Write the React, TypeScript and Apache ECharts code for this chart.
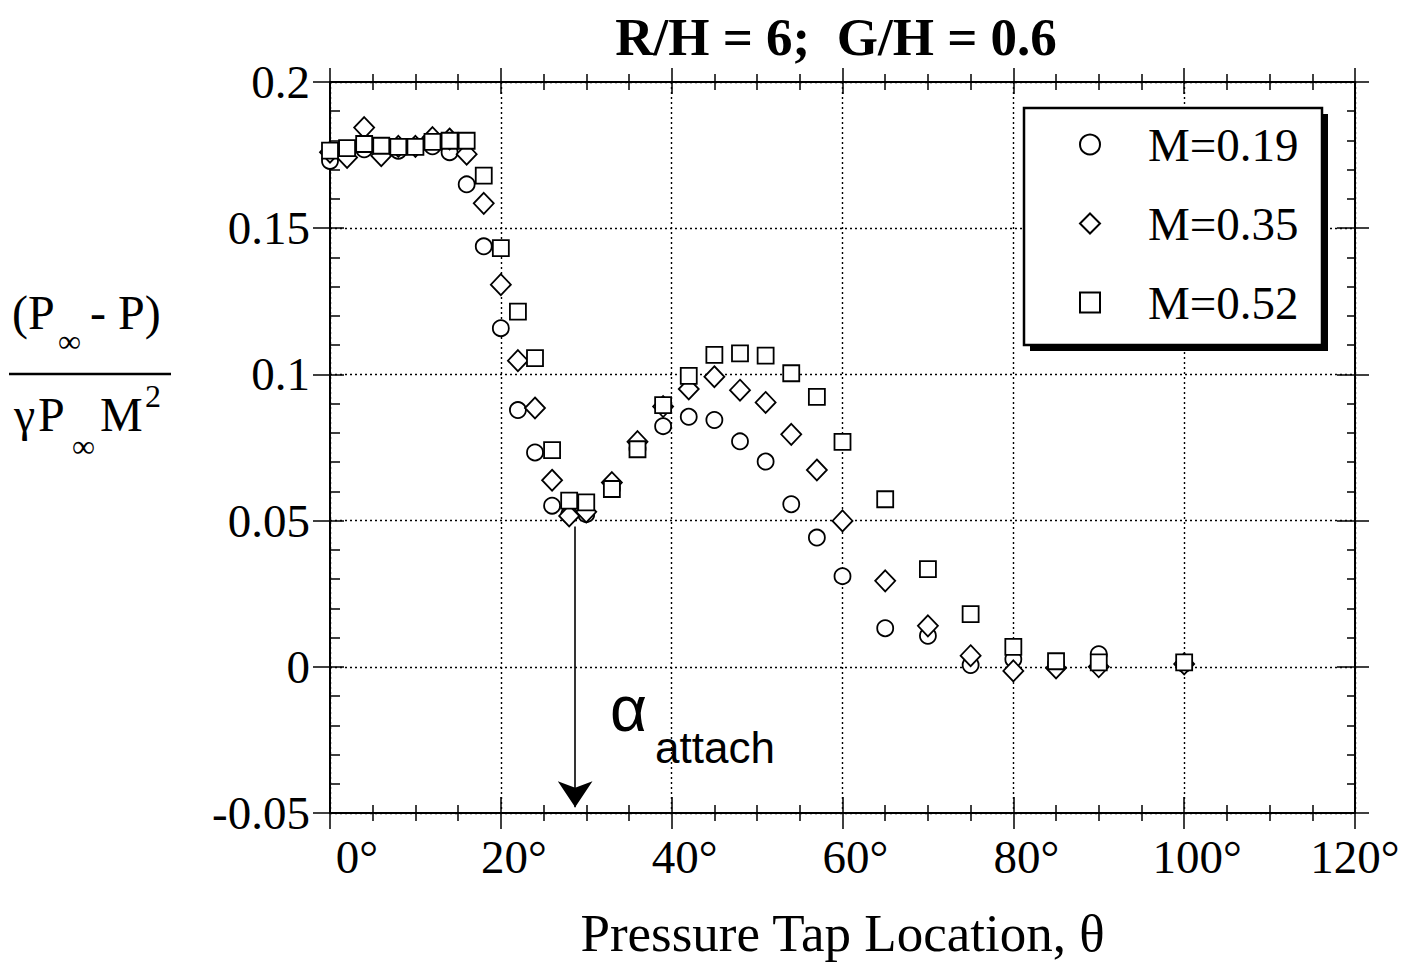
import React, { useEffect, useRef } from "react";
import * as echarts from "echarts";

// Pressure tap locations (deg) and pressure coefficient (P∞ - P)/(γ P∞ M²)
const THETA = [0, 2, 4, 6, 8, 10, 12, 14, 16, 18, 20, 22, 24, 26, 28, 30, 33, 36, 39, 42, 45, 48, 51, 54, 57, 60, 65, 70, 75, 80, 85, 90, 100];

const CP_M019 = [0.173, 0.177, 0.177, 0.178, 0.1765, 0.178, 0.178, 0.176, 0.165, 0.1438, 0.1158, 0.0878, 0.0733, 0.0551, 0.052, 0.0522, 0.061, 0.0745, 0.0823, 0.0855, 0.0844, 0.0771, 0.0702, 0.0556, 0.0442, 0.031, 0.0132, 0.0106, 0.0006, 0.0026, 0.001, 0.0043, 0.001];

const CP_M035 = [0.176, 0.1742, 0.1844, 0.1748, 0.178, 0.178, 0.181, 0.1805, 0.1753, 0.1585, 0.1307, 0.1047, 0.0885, 0.0638, 0.0516, 0.053, 0.063, 0.077, 0.089, 0.095, 0.0992, 0.0946, 0.0904, 0.0795, 0.0673, 0.0499, 0.0294, 0.014, 0.0038, -0.0014, -0.0004, 0.0, 0.001];

const CP_M052 = [0.1765, 0.1774, 0.1788, 0.1782, 0.1778, 0.1778, 0.1795, 0.1799, 0.1799, 0.168, 0.1432, 0.1215, 0.1056, 0.0741, 0.0568, 0.0562, 0.0608, 0.0744, 0.0895, 0.0995, 0.1067, 0.1072, 0.1064, 0.1004, 0.0923, 0.0769, 0.0573, 0.0334, 0.018, 0.0068, 0.0019, 0.0015, 0.0015];

const SERIES_NAMES = ["M=0.19", "M=0.35", "M=0.52"];

const X_MIN = 0;
const X_MAX = 120;
const X_STEP = 20;
const Y_MIN = -0.05;
const Y_MAX = 0.2;
const Y_STEP = 0.05;

// reattachment marker
const ATTACH_ANGLE = 28.7;
const ARROW_FROM = 0.048;
const ARROW_TO = -0.048;

const TITLE = "R/H = 6;  G/H = 0.6";
const X_NAME = "Pressure Tap Location, θ";

const SERIF = '"Liberation Serif", "Times New Roman", Times, serif';
const SANS = '"Liberation Sans", Arial, Helvetica, sans-serif';
const BLACK = "#000";
const tickStyle = { color: BLACK, width: 1.5 };

const pairs = (ys: number[]) => THETA.map((t, i) => [t, ys[i]]);

function xAxisDef(position: string, inside: boolean, major: number, minor: number, withLine: boolean, extra: any = {}) {
  return {
    type: "value",
    min: X_MIN,
    max: X_MAX,
    interval: X_STEP,
    position,
    axisLine: { show: withLine, onZero: false, lineStyle: { color: BLACK, width: 2 } },
    axisTick: { show: major > 0, inside, length: major, lineStyle: tickStyle },
    minorTick: { show: minor > 0, splitNumber: 4, length: minor, lineStyle: tickStyle },
    axisLabel: { show: false },
    splitLine: { show: false },
    minorSplitLine: { show: false },
    ...extra,
  };
}

function yAxisDef(position: string, inside: boolean, major: number, minor: number, withLine: boolean, extra: any = {}) {
  return {
    type: "value",
    min: Y_MIN,
    max: Y_MAX,
    interval: Y_STEP,
    position,
    axisLine: { show: withLine, onZero: false, lineStyle: { color: BLACK, width: 2 } },
    axisTick: { show: major > 0, inside, length: major, lineStyle: tickStyle },
    minorTick: { show: minor > 0, splitNumber: 5, length: minor, lineStyle: tickStyle },
    axisLabel: { show: false },
    splitLine: { show: false },
    minorSplitLine: { show: false },
    ...extra,
  };
}

const gridLine = { show: true, lineStyle: { color: BLACK, width: 1.4, type: [2, 3] } };

const markerStyle = { color: "#fff", borderColor: BLACK, borderWidth: 1.8, opacity: 1 };

const labelFont = { fontFamily: SERIF, fontSize: 47, color: BLACK };

function txt(text: string, x: number, y: number, font: string, align = "left") {
  return {
    type: "text",
    z: 6,
    x,
    y,
    style: {
      text,
      font,
      fill: BLACK,
      align,
      textAlign: align,
      verticalAlign: "middle",
      textVerticalAlign: "middle",
    },
  };
}

// degree labels sit a little right of their ticks; the first one more so, the last one centred
function degreeLabel(v: number) {
  if (v === X_MIN) return `{first|${v}°}`;
  if (v === X_MAX) return `{last|${v}°}`;
  return `{deg|${v}°}`;
}

export default function App() {
  const ref = useRef<HTMLDivElement>(null);

  useEffect(() => {
    if (!ref.current) return;
    const chart = echarts.init(ref.current, undefined, { renderer: "svg" });

    const option: any = {
      animation: false,
      backgroundColor: "#fff",
      grid: { left: 330, right: 64, top: 82, bottom: 152, containLabel: false, outerBoundsMode: "none" },
      xAxis: [
        xAxisDef("bottom", true, 16, 8, true, {
          splitLine: gridLine,
          axisLabel: {
            show: true,
            margin: 20,
            ...labelFont,
            formatter: degreeLabel,
            rich: {
              first: { ...labelFont, padding: [0, 0, 0, 54] },
              deg: { ...labelFont, padding: [0, 0, 0, 26] },
              last: { ...labelFont, padding: [0, 0, 0, 0] },
            },
          },
          name: X_NAME,
          nameLocation: "middle",
          nameGap: 93,
          nameTextStyle: { fontFamily: SERIF, fontSize: 53, color: BLACK },
        }),
        xAxisDef("bottom", false, 16, 8, false),
        xAxisDef("top", true, 12, 8, true),
        xAxisDef("top", false, 14, 8, false),
      ],
      yAxis: [
        yAxisDef("left", true, 14, 10, true, {
          splitLine: gridLine,
          axisLabel: {
            show: true,
            margin: 20,
            ...labelFont,
          },
        }),
        yAxisDef("left", false, 17, 0, false),
        yAxisDef("right", true, 18, 8, true),
        yAxisDef("right", false, 14, 0, false),
      ],
      legend: {
        orient: "vertical",
        left: 1079,
        top: 121,
        padding: 0,
        itemWidth: 20,
        itemHeight: 20,
        itemGap: 32,
        z: 10,
        selectedMode: false,
        data: SERIES_NAMES,
        formatter: (name: string) => `{gap| }${name}`,
        textStyle: {
          fontFamily: SERIF,
          fontSize: 47,
          color: BLACK,
          rich: { gap: { width: 43, fontSize: 47, fontFamily: SERIF } },
        },
      },
      series: [
        {
          name: SERIES_NAMES[0],
          type: "scatter",
          symbol: "circle",
          symbolSize: 16,
          itemStyle: markerStyle,
          z: 2,
          silent: true,
          data: pairs(CP_M019),
          markLine: {
            silent: true,
            animation: false,
            symbol: ["none", "arrow"],
            symbolSize: 26,
            lineStyle: { color: BLACK, width: 1.6, type: "solid" },
            label: { show: false },
            data: [[{ coord: [ATTACH_ANGLE, ARROW_FROM] }, { coord: [ATTACH_ANGLE, ARROW_TO] }]],
          },
        },
        {
          name: SERIES_NAMES[1],
          type: "scatter",
          symbol: "diamond",
          symbolSize: [20, 21],
          itemStyle: markerStyle,
          z: 3,
          silent: true,
          data: pairs(CP_M035),
        },
        {
          name: SERIES_NAMES[2],
          type: "scatter",
          symbol: "rect",
          symbolSize: 16,
          itemStyle: markerStyle,
          z: 4,
          silent: true,
          data: pairs(CP_M052),
        },
      ],
      graphic: [
        // legend frame with drop shadow
        { type: "rect", z: 5, shape: { x: 1030, y: 114, width: 298, height: 237 }, style: { fill: BLACK } },
        { type: "rect", z: 5, shape: { x: 1024, y: 108, width: 298, height: 237 }, style: { fill: "#fff", stroke: BLACK, lineWidth: 2.5 } },
        // title
        txt(TITLE, 836, 37, `bold 53px ${SERIF}`, "center"),
        // y quantity written as a fraction
        txt("(P", 12, 312, `48px ${SERIF}`),
        txt("∞", 58, 341, `32px ${SERIF}`),
        txt("- P)", 90, 312, `48px ${SERIF}`),
        { type: "line", z: 6, shape: { x1: 9, y1: 374, x2: 171, y2: 374 }, style: { stroke: BLACK, lineWidth: 2.5 } },
        txt("γ", 14, 414, `48px ${SERIF}`),
        txt("P", 38, 414, `48px ${SERIF}`),
        txt("∞", 72, 446, `32px ${SERIF}`),
        txt("M", 100, 414, `48px ${SERIF}`),
        txt("2", 145, 396, `32px ${SERIF}`),
        // reattachment label
        txt("α", 610, 709, `64px ${SANS}`),
        txt("attach", 655, 747, `44px ${SANS}`),
      ],
    };

    chart.setOption(option);
    return () => chart.dispose();
  }, []);

  return (
    <div
      ref={ref}
      style={{ position: "absolute", left: 0, top: 0, width: 1419, height: 965, background: "#fff" }}
    />
  );
}
